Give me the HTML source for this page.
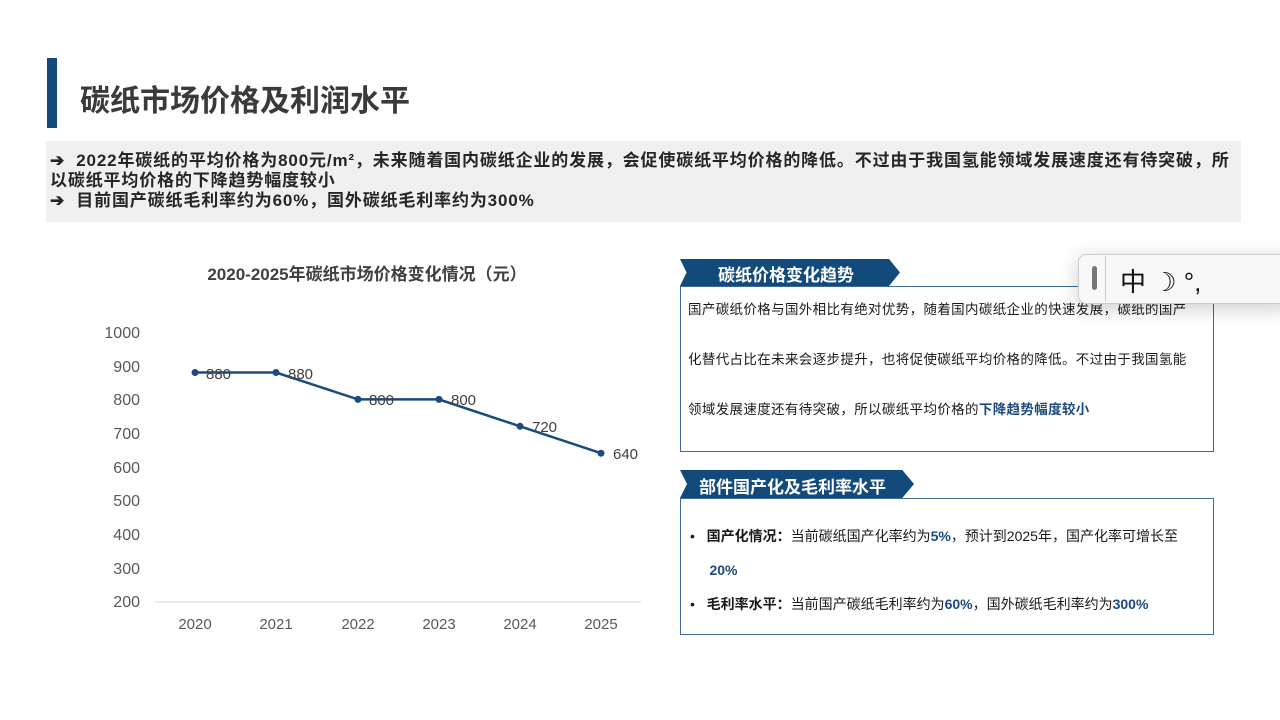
<!DOCTYPE html>
<html><head><meta charset="utf-8"><style>
*{margin:0;padding:0;box-sizing:border-box}
body{width:1280px;height:720px;background:#fff;position:relative;overflow:hidden;font-family:"Liberation Sans","Noto Sans CJK SC",sans-serif;color:#000}
.a{position:absolute;white-space:nowrap}
.b{color:#1b4a7e;font-weight:bold}
</style></head><body>
<div class="a" style="left:47px;top:58px;width:10px;height:70px;background:#134a7c"></div>
<div class="a" style="left:80px;top:76px;font-size:30px;font-weight:bold;color:#3a3a3a">碳纸市场价格及利润水平</div>
<div class="a" style="left:46px;top:141px;width:1195px;height:81px;background:#f0f0f0"></div>
<div class="a" style="left:50px;top:151px;font-size:17px;font-weight:bold;color:#262626;line-height:20px;letter-spacing:0.85px">➔&nbsp; 2022年碳纸的平均价格为800元/m²，未来随着国内碳纸企业的发展，会促使碳纸平均价格的降低。不过由于我国氢能领域发展速度还有待突破，所<br>以碳纸平均价格的下降趋势幅度较小<br>➔&nbsp; 目前国产碳纸毛利率约为60%，国外碳纸毛利率约为300%</div>
<svg class="a" style="left:0;top:0" width="670" height="720">
<text x="367" y="280" text-anchor="middle" font-size="17" font-weight="bold" fill="#404040" font-family="Liberation Sans,Noto Sans CJK SC,sans-serif">2020-2025年碳纸市场价格变化情况（元）</text>
<g font-size="16" fill="#595959" text-anchor="end" font-family="Liberation Sans,sans-serif">
<text x="140" y="338">1000</text><text x="140" y="372">900</text><text x="140" y="405">800</text><text x="140" y="439">700</text><text x="140" y="473">600</text><text x="140" y="506">500</text><text x="140" y="540">400</text><text x="140" y="574">300</text><text x="140" y="607">200</text>
</g>
<line x1="155" y1="602" x2="641" y2="602" stroke="#d9d9d9"/>
<g font-size="15" fill="#595959" text-anchor="middle" font-family="Liberation Sans,sans-serif">
<text x="195" y="629">2020</text><text x="276" y="629">2021</text><text x="358" y="629">2022</text><text x="439" y="629">2023</text><text x="520" y="629">2024</text><text x="601" y="629">2025</text>
</g>
<polyline points="195,372.5 276,372.5 358,399.4 439,399.4 520,426.3 601,453.2" fill="none" stroke="#1b4a7e" stroke-width="2.5"/>
<g fill="#1b4a7e"><circle cx="195" cy="372.5" r="3.5"/><circle cx="276" cy="372.5" r="3.5"/><circle cx="358" cy="399.4" r="3.5"/><circle cx="439" cy="399.4" r="3.5"/><circle cx="520" cy="426.3" r="3.5"/><circle cx="601" cy="453.2" r="3.5"/></g>
<g font-size="15" fill="#404040" font-family="Liberation Sans,sans-serif">
<text x="206" y="379">880</text><text x="288" y="379">880</text><text x="369" y="405">800</text><text x="451" y="405">800</text><text x="532" y="432">720</text><text x="613" y="459">640</text>
</g>
</svg>
<div class="a" style="left:680px;top:286px;width:534px;height:166px;border:1.5px solid #41699a"></div>
<div class="a" style="left:680px;top:259px;width:220px;height:27px;background:#134a7c;clip-path:polygon(0 0,95% 0,100% 50%,95% 100%,0 100%,3% 50%)"></div>
<div class="a" style="left:718px;top:261px;font-size:17px;font-weight:bold;color:#fff">碳纸价格变化趋势</div>
<div class="a" style="left:688px;top:285px;font-size:13.5px;line-height:50px;color:#1a1a1a;letter-spacing:0.35px">国产碳纸价格与国外相比有绝对优势，随着国内碳纸企业的快速发展，碳纸的国产<br>化替代占比在未来会逐步提升，也将促使碳纸平均价格的降低。不过由于我国氢能<br>领域发展速度还有待突破，所以碳纸平均价格的<span class="b">下降趋势幅度较小</span></div>
<div class="a" style="left:680px;top:498px;width:534px;height:137px;border:1.5px solid #41699a"></div>
<div class="a" style="left:680px;top:470px;width:234px;height:28px;background:#134a7c;clip-path:polygon(0 0,95% 0,100% 50%,95% 100%,0 100%,3% 50%)"></div>
<div class="a" style="left:699px;top:473px;font-size:17px;font-weight:bold;color:#fff">部件国产化及毛利率水平</div>
<div class="a" style="left:690px;top:519px;font-size:14px;line-height:34px;color:#1a1a1a;letter-spacing:0px">•&nbsp;&nbsp;&nbsp;<b>国产化情况：</b>当前碳纸国产化率约为<span class="b">5%</span>，预计到2025年，国产化率可增长至<br>&nbsp;&nbsp;&nbsp;&nbsp;&nbsp;<span class="b">20%</span><br>•&nbsp;&nbsp;&nbsp;<b>毛利率水平：</b>当前国产碳纸毛利率约为<span class="b">60%</span>，国外碳纸毛利率约为<span class="b">300%</span></div>
<div class="a" style="left:1078px;top:254px;width:220px;height:50px;background:#f8f8f8;border:1px solid #ccc;border-radius:8px;box-shadow:0 4px 20px rgba(0,0,0,0.2)"></div>
<div class="a" style="left:1092px;top:266px;width:5px;height:24px;background:#777;border-radius:3px"></div>
<div class="a" style="left:1105px;top:256px;width:1px;height:46px;background:#ccc"></div>
<div class="a" style="left:1120px;top:262px;font-size:26px;color:#111">中&nbsp;☽&nbsp;°,</div>
</body></html>
